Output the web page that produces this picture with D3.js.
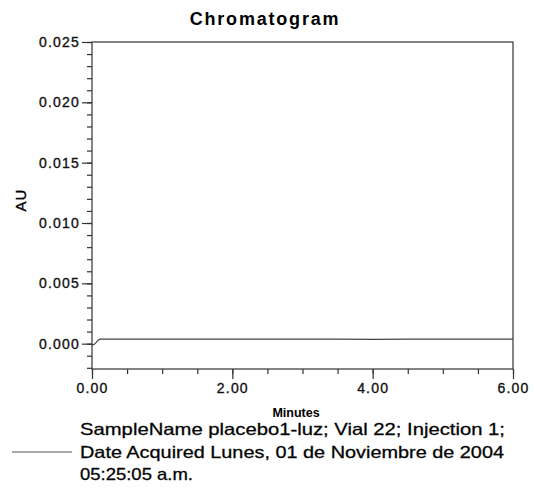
<!DOCTYPE html>
<html>
<head>
<meta charset="utf-8">
<script src="https://cdn.jsdelivr.net/npm/d3@7"></script>
<style>
    body { margin: 0; background: #fff; }
    svg { display: block; font-family: 'Liberation Sans', Arial, sans-serif; }
</style>
</head>
<body>
<div id="chart"></div>
<script>
// chromatogram trace, minutes vs AU
const minutes = [0, 0.03, 0.06, 0.09, 0.12, 0.2, 0.5, 1.0, 1.5, 2.0, 2.5, 3.0, 3.5, 4.0, 4.5, 5.0, 5.5, 6.0]
const au = [-0.0001, -0.00006, 0.0001, 0.0003, 0.00037, 0.00038, 0.00038, 0.00038, 0.00037, 0.00038, 0.00038, 0.00037, 0.00038, 0.00036, 0.00037, 0.00038, 0.00038, 0.00038]

const xTicks = [0, 2, 4, 6]
const yTicks = [0, 0.005, 0.010, 0.015, 0.020, 0.025]
const legendLines = [
    'SampleName placebo1-luz; Vial 22; Injection 1;',
    'Date Acquired Lunes, 01 de Noviembre de 2004',
    '05:25:05 a.m.'
]

const width = 534
const height = 496
const margin = {top: 42, right: 21, bottom: 127, left: 92}

const svg = d3.select('#chart')
    .append('svg')
    .attr('width', width)
    .attr('height', height)

const x = d3.scaleLinear()
    .domain([0, 6])
    .range([margin.left, width - margin.right])

const y = d3.scaleLinear()
    .domain([-0.0021, 0.025])
    .range([height - margin.bottom, margin.top])

const axisColor = '#333'

// frame
svg.append('rect')
    .attr('x', x(0))
    .attr('y', y(0.025))
    .attr('width', x(6) - x(0))
    .attr('height', y(-0.0021) - y(0.025))
    .attr('fill', 'none')
    .attr('stroke', axisColor)
    .attr('stroke-width', 1.2)

// styles tick groups the same way
function styleAxis (g) {
    g.selectAll('.domain').remove()
    g.selectAll('line').attr('stroke', axisColor).attr('stroke-width', 1.2)
    g.selectAll('text')
        .attr('fill', '#111')
        .attr('stroke', '#111')
        .attr('stroke-width', 0.35)
        .style('font-size', '14px')
        .style('letter-spacing', '1.2px')
}

// x axis, minor then major ticks (separate groups so the joins don't clash)
const xPos = 'translate(0,' + y(-0.0021) + ')'
svg.append('g')
    .attr('transform', xPos)
    .call(d3.axisBottom(x).tickValues(d3.range(0, 6.01, 0.5)).tickSize(5).tickFormat(''))
    .call(styleAxis)
svg.append('g')
    .attr('transform', xPos)
    .call(d3.axisBottom(x).tickValues(xTicks).tickSize(10).tickPadding(4).tickFormat(d3.format('.2f')))
    .call(styleAxis)

// y axis
const yPos = 'translate(' + x(0) + ',0)'
svg.append('g')
    .attr('transform', yPos)
    .call(d3.axisLeft(y).tickValues(d3.range(-0.002, 0.02501, 0.001)).tickSize(5).tickFormat(''))
    .call(styleAxis)
svg.append('g')
    .attr('transform', yPos)
    .call(d3.axisLeft(y).tickValues(yTicks).tickSize(10).tickPadding(2).tickFormat(d3.format('.3f')))
    .call(styleAxis)

// trace
let line = d3.line()
    .x((d, i) => x(minutes[i]))
    .y(d => y(d))

svg.append('path')
    .datum(au)
    .attr('d', line)
    .attr('fill', 'none')
    .attr('stroke', '#444')
    .attr('stroke-width', 1.2)

// titles
svg.append('text')
    .attr('x', 265)
    .attr('y', 25)
    .attr('text-anchor', 'middle')
    .style('font-size', '18px')
    .style('font-weight', 'bold')
    .style('letter-spacing', '1.8px')
    .text('Chromatogram')

svg.append('text')
    .attr('transform', 'translate(26,200) rotate(-90)')
    .attr('text-anchor', 'middle')
    .attr('stroke', '#111')
    .attr('stroke-width', 0.4)
    .style('font-size', '15px')
    .style('letter-spacing', '1px')
    .text('AU')

svg.append('text')
    .attr('x', 296)
    .attr('y', 417)
    .attr('text-anchor', 'middle')
    .style('font-size', '12.5px')
    .style('font-weight', 'bold')
    .text('Minutes')

// legend
svg.append('line')
    .attr('x1', 12)
    .attr('x2', 72)
    .attr('y1', 452)
    .attr('y2', 452)
    .attr('stroke', '#555')
    .attr('stroke-width', 1)

const legendEnds = [505, 504, 193]
svg.selectAll('.legend-text')
    .data(legendLines)
    .enter().append('text')
    .attr('class', 'legend-text')
    .attr('x', 80)
    .attr('y', (d, i) => 435 + i * 22.5)
    .attr('textLength', (d, i) => legendEnds[i] - 80)
    .attr('lengthAdjust', 'spacingAndGlyphs')
    .attr('stroke', '#111')
    .attr('stroke-width', 0.3)
    .style('font-size', '16.5px')
    .text(d => d)
</script>
</body>
</html>
